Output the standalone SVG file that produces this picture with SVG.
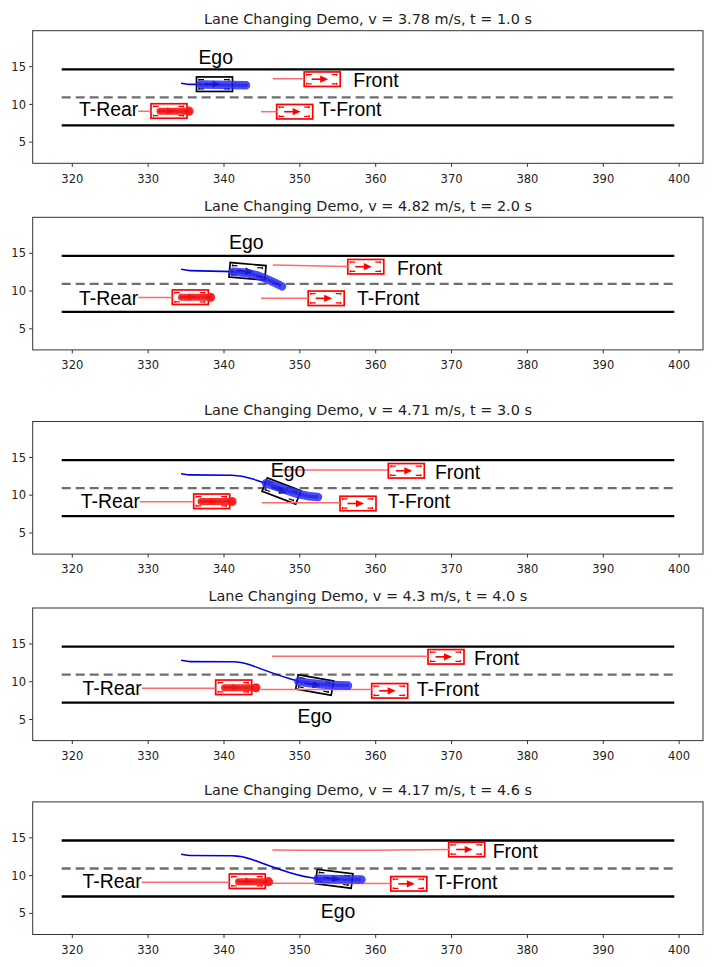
<svg xmlns="http://www.w3.org/2000/svg" xmlns:xlink="http://www.w3.org/1999/xlink" width="717" height="967" viewBox="0 0 717 967">
<style>
.bg{fill:#fff}
.frame{fill:none;stroke:#333;stroke-width:1}
.lane{stroke:#000;stroke-width:2.3}
.center{stroke:#6e6e6e;stroke-width:2.3;stroke-dasharray:9 5}
.tick{stroke:#333;stroke-width:1}
.tl{font-family:"DejaVu Sans",sans-serif;font-size:11.5px;fill:#222}
.tlx{text-anchor:middle}
.tly{text-anchor:end}
.title{font-family:"DejaVu Sans",sans-serif;font-size:14.4px;fill:#222;text-anchor:middle}
.lbl{font-family:"Liberation Sans",Arial,sans-serif;font-size:19.4px;fill:#000}
.mid{text-anchor:middle}
.end{text-anchor:end}
.hist-r{fill:none;stroke:#ff6a6a;stroke-width:1.5}
.hist-b{fill:none;stroke:#0000e0;stroke-width:1.6}
.band-b{fill:none;stroke:#2a2aff;stroke-width:8.5;stroke-linecap:round;stroke-linejoin:round;opacity:.85}
.band-r{fill:none;stroke:#ff1c1c;stroke-width:7;stroke-linecap:round;opacity:.92}
.blob-end{fill:#ff1c1c;opacity:.92}
.dots-b{fill:none;stroke:#0000b0;stroke-width:4;stroke-linecap:round;stroke-dasharray:0 3.5;opacity:.35}
.dots-r{fill:none;stroke:#c00000;stroke-width:3.5;stroke-linecap:round;stroke-dasharray:0 3.5;opacity:.35}
</style>
<defs>
  <g id="car" fill="none" stroke="currentColor">
    <rect x="-18" y="-7.25" width="36" height="14.5" stroke-width="1.7"/>
    <g stroke-width="1.2">
      <path d="M-16 -4.6H-10.5M-16 4.6H-10.5M9.5 -4.6H15M9.5 4.6H15"/>
      <path d="M-15.5 -5.5V-3.5M-15.5 3.5V5.5M14.5 -5.5V-3.5M14.5 3.5V5.5"/>
    </g>
    <path d="M-10.5 0H0" stroke-width="1.6"/>
    <path d="M-2 -3.6L6 0L-2 3.6Z" fill="currentColor" stroke="none"/>
  </g>
  <g id="axes">
    <rect class="frame" x="32.7" y="30.7" width="670.3" height="132.6"/>
    <line class="lane" x1="61.7" y1="69.3" x2="674.3" y2="69.3"/>
    <line class="lane" x1="61.7" y1="125.3" x2="674.3" y2="125.3"/>
    <line class="center" x1="61.7" y1="97.3" x2="674.3" y2="97.3"/>
    <g class="tick">
      <line x1="72.3" y1="163.3" x2="72.3" y2="166.8"/>
      <line x1="148.15" y1="163.3" x2="148.15" y2="166.8"/>
      <line x1="224" y1="163.3" x2="224" y2="166.8"/>
      <line x1="299.85" y1="163.3" x2="299.85" y2="166.8"/>
      <line x1="375.7" y1="163.3" x2="375.7" y2="166.8"/>
      <line x1="451.55" y1="163.3" x2="451.55" y2="166.8"/>
      <line x1="527.4" y1="163.3" x2="527.4" y2="166.8"/>
      <line x1="603.25" y1="163.3" x2="603.25" y2="166.8"/>
      <line x1="679.1" y1="163.3" x2="679.1" y2="166.8"/>
      <line x1="29.2" y1="66.7" x2="32.7" y2="66.7"/>
      <line x1="29.2" y1="104.4" x2="32.7" y2="104.4"/>
      <line x1="29.2" y1="142.2" x2="32.7" y2="142.2"/>
    </g>
    <g class="tl tlx">
      <text x="72.3" y="182.5">320</text>
      <text x="148.15" y="182.5">330</text>
      <text x="224" y="182.5">340</text>
      <text x="299.85" y="182.5">350</text>
      <text x="375.7" y="182.5">360</text>
      <text x="451.55" y="182.5">370</text>
      <text x="527.4" y="182.5">380</text>
      <text x="603.25" y="182.5">390</text>
      <text x="679.1" y="182.5">400</text>
    </g>
    <g class="tl tly">
      <text x="26" y="70.8">15</text>
      <text x="26" y="108.5">10</text>
      <text x="26" y="146.3">5</text>
    </g>
  </g>
</defs>
<rect class="bg" x="0" y="0" width="717" height="967"/>

<!-- Panel 1 -->
<g id="panel1">
  <use xlink:href="#axes" href="#axes"/>
  <text class="title" x="367.9" y="24">Lane Changing Demo, v = 3.78 m/s, t = 1.0 s</text>
  <g id="p1-nodes">
    <g id="p1-ego"><use href="#car" xlink:href="#car" color="#000" transform="translate(214.5 84.2)"/><text class="lbl mid" x="215.7" y="64.3">Ego</text></g>
    <g id="p1-trear"><use href="#car" xlink:href="#car" color="#f00" transform="translate(169 111)"/><text class="lbl end" x="138.3" y="115.7">T-Rear</text></g>
    <g id="p1-front"><use href="#car" xlink:href="#car" color="#f00" transform="translate(322.2 79.2)"/><text class="lbl" x="353.3" y="87.3">Front</text></g>
    <g id="p1-tfront"><use href="#car" xlink:href="#car" color="#f00" transform="translate(294.7 111.7)"/><text class="lbl" x="319" y="116">T-Front</text></g>
  </g>
  <g id="p1-connectors">
    <path class="hist-r" d="M138.3 111.3H151"/>
    <path class="hist-r" d="M272.7 78.7H304.2"/>
    <path class="hist-r" d="M261 111.7H276.7"/>
    <path class="hist-b" d="M181 83.3C184 83.3 185 84.3 190 84.4L201 84.5"/>
    <path class="band-b" d="M200.5 84.6L246 85.2"/>
    <path class="dots-b" d="M200.5 84.6L246 85.2"/>
    <path class="band-r" d="M160 111.2H189"/>
    <circle class="blob-end" cx="189" cy="111.2" r="4.6"/>
    <path class="dots-r" d="M160 111.2H189"/>
  </g>
</g>

<!-- Panel 2 -->
<g id="panel2" transform="translate(0 186.6)">
  <use xlink:href="#axes" href="#axes"/>
  <text class="title" x="367.9" y="24">Lane Changing Demo, v = 4.82 m/s, t = 2.0 s</text>
  <g id="p2-nodes">
    <g id="p2-ego"><use href="#car" xlink:href="#car" color="#000" transform="translate(247.5 84.7) rotate(5)"/><text class="lbl mid" x="246.3" y="62.7">Ego</text></g>
    <g id="p2-trear"><use href="#car" xlink:href="#car" color="#f00" transform="translate(190.3 110.6)"/><text class="lbl end" x="138.3" y="118">T-Rear</text></g>
    <g id="p2-front"><use href="#car" xlink:href="#car" color="#f00" transform="translate(365.8 80.1)"/><text class="lbl" x="397" y="88">Front</text></g>
    <g id="p2-tfront"><use href="#car" xlink:href="#car" color="#f00" transform="translate(326.2 111.7)"/><text class="lbl" x="357" y="118.4">T-Front</text></g>
  </g>
  <g id="p2-connectors">
    <path class="hist-r" d="M138.3 111H172.3"/>
    <path class="hist-r" d="M272.7 78.5L347.8 79.8"/>
    <path class="hist-r" d="M261 111.7H308.2"/>
    <path class="hist-b" d="M181 82.7C184 82.7 185 83.9 190 84L233 85"/>
    <path class="band-b" d="M233 85.2C245 85.8 255 87.8 262 90.5C270 93.8 276 96.5 282 99.8"/>
    <path class="dots-b" d="M233 85.2C245 85.8 255 87.8 262 90.5C270 93.8 276 96.5 282 99.8"/>
    <path class="band-r" d="M181.5 110.7H210.5"/>
    <circle class="blob-end" cx="210.5" cy="110.7" r="4.6"/>
    <path class="dots-r" d="M181.5 110.7H210.5"/>
  </g>
</g>

<!-- Panel 3 -->
<g id="panel3" transform="translate(0 390.8)">
  <use xlink:href="#axes" href="#axes"/>
  <text class="title" x="367.9" y="24">Lane Changing Demo, v = 4.71 m/s, t = 3.0 s</text>
  <g id="p3-connectors-under">
    <path class="hist-r" d="M272 79.2H388.3"/>
  </g>
  <g id="p3-nodes">
    <g id="p3-ego"><use href="#car" xlink:href="#car" color="#000" transform="translate(281.5 100.2) rotate(21)"/><text class="lbl mid" x="288" y="85.9">Ego</text></g>
    <g id="p3-trear"><use href="#car" xlink:href="#car" color="#f00" transform="translate(211.7 110.5)"/><text class="lbl end" x="140" y="117.5">T-Rear</text></g>
    <g id="p3-front"><use href="#car" xlink:href="#car" color="#f00" transform="translate(406.3 80)"/><text class="lbl" x="435" y="88.2">Front</text></g>
    <g id="p3-tfront"><use href="#car" xlink:href="#car" color="#f00" transform="translate(358 112.7)"/><text class="lbl" x="387.7" y="117.5">T-Front</text></g>
  </g>
  <g id="p3-connectors">
    <path class="hist-r" d="M140 111H193.7"/>
    <path class="hist-r" d="M261.7 112H340"/>
    <path class="hist-b" d="M181 82.9C184 82.9 185 84 190 84.1L232 84.4C240 84.6 246 86 252 88C258 90 262 91.5 266 92.5"/>
    <path class="band-b" d="M266 92.5C278 96 290 101 300 103.5C306 105 312 106 318 106.3"/>
    <path class="dots-b" d="M266 92.5C278 96 290 101 300 103.5C306 105 312 106 318 106.3"/>
    <path class="band-r" d="M201 110.8H232"/>
    <circle class="blob-end" cx="232" cy="110.8" r="4.6"/>
    <path class="dots-r" d="M201 110.8H232"/>
  </g>
</g>

<!-- Panel 4 -->
<g id="panel4" transform="translate(0 577.3)">
  <use xlink:href="#axes" href="#axes"/>
  <text class="title" x="367.9" y="24">Lane Changing Demo, v = 4.3 m/s, t = 4.0 s</text>
  <g id="p4-nodes">
    <g id="p4-ego"><use href="#car" xlink:href="#car" color="#000" transform="translate(314.7 107.7) rotate(10)"/><text class="lbl mid" x="314.8" y="146">Ego</text></g>
    <g id="p4-trear"><use href="#car" xlink:href="#car" color="#f00" transform="translate(233.7 110)"/><text class="lbl end" x="141.7" y="117.7">T-Rear</text></g>
    <g id="p4-front"><use href="#car" xlink:href="#car" color="#f00" transform="translate(446 79.5)"/><text class="lbl" x="474" y="88">Front</text></g>
    <g id="p4-tfront"><use href="#car" xlink:href="#car" color="#f00" transform="translate(389.7 113.5)"/><text class="lbl" x="416.7" y="118.7">T-Front</text></g>
  </g>
  <g id="p4-connectors">
    <path class="hist-r" d="M141.7 111H215.7"/>
    <path class="hist-r" d="M272 79H428"/>
    <path class="hist-r" d="M261 112.3L371.7 112.2"/>
    <path class="hist-b" d="M181 83C184 83 185 84.2 190 84.3L232 84.5C240 84.7 246 86 252 88.2C262 92 275 97 290 101.5C294 102.7 296 103.4 298.5 104"/>
    <path class="band-b" d="M298.5 104.2C310 106.3 325 107.8 348 108.3"/>
    <path class="dots-b" d="M298.5 104.2C310 106.3 325 107.8 348 108.3"/>
    <path class="band-r" d="M224.5 110.5H256"/>
    <circle class="blob-end" cx="256" cy="110.5" r="4.6"/>
    <path class="dots-r" d="M224.5 110.5H256"/>
  </g>
</g>

<!-- Panel 5 -->
<g id="panel5" transform="translate(0 771.2)">
  <use xlink:href="#axes" href="#axes"/>
  <text class="title" x="367.9" y="24">Lane Changing Demo, v = 4.17 m/s, t = 4.6 s</text>
  <g id="p5-nodes">
    <g id="p5-ego"><use href="#car" xlink:href="#car" color="#000" transform="translate(334.2 107.6) rotate(7)"/><text class="lbl mid" x="338" y="147.1">Ego</text></g>
    <g id="p5-trear"><use href="#car" xlink:href="#car" color="#f00" transform="translate(247.3 110)"/><text class="lbl end" x="141.7" y="117.1">T-Rear</text></g>
    <g id="p5-front"><use href="#car" xlink:href="#car" color="#f00" transform="translate(466.7 78.3)"/><text class="lbl" x="492.7" y="87.1">Front</text></g>
    <g id="p5-tfront"><use href="#car" xlink:href="#car" color="#f00" transform="translate(408.8 112.6)"/><text class="lbl" x="435" y="118.1">T-Front</text></g>
  </g>
  <g id="p5-connectors">
    <path class="hist-r" d="M141.7 111.1H229.3"/>
    <path class="hist-r" d="M272.3 78.8C330 79.2 400 79 449 78.3"/>
    <path class="hist-r" d="M261 112L391 112.3"/>
    <path class="hist-b" d="M181 83C184 83 185 84.2 190 84.3L232 84.5C240 84.7 246 86 252 88.2C262 92 275 97 290 101.5C300 104.5 308 106.5 318 107.3"/>
    <path class="band-b" d="M317.5 107.6C330 108 345 108.3 361.5 108.3"/>
    <path class="dots-b" d="M317.5 107.6C330 108 345 108.3 361.5 108.3"/>
    <path class="band-r" d="M238.5 110.5H268.5"/>
    <circle class="blob-end" cx="268.5" cy="110.5" r="4.6"/>
    <path class="dots-r" d="M238.5 110.5H268.5"/>
  </g>
</g>
</svg>
